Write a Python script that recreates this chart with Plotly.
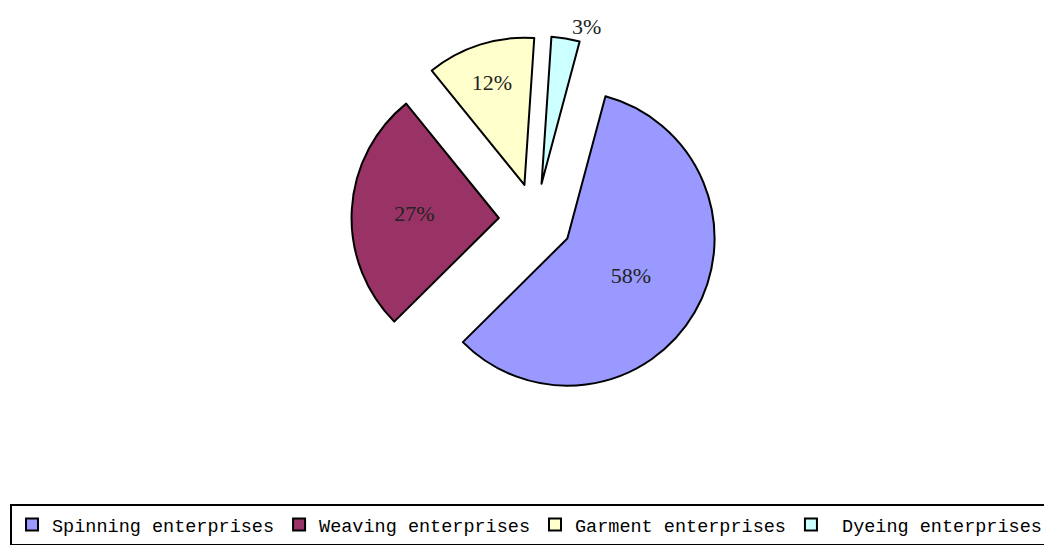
import plotly.graph_objects as go

# Data
categories = ["Spinning enterprises", "Weaving enterprises", "Garment enterprises", " Dyeing enterprises"]
shares = [58.4, 26.6, 11.9, 3.1]
colors = ["#9999FF", "#993366", "#FFFFCC", "#CCFFFF"]
text_positions = ["inside", "inside", "inside", "outside"]

fig = go.Figure(
    go.Pie(
        labels=categories,
        values=shares,
        sort=False,
        direction="clockwise",
        rotation=15,
        pull=[0.25, 0.25, 0.25, 0.25],
        domain=dict(x=[0.0259, 1.0], y=[0, 1]),
        marker=dict(colors=colors, line=dict(color="#000000", width=2)),
        texttemplate="%{percent:.0%}",
        textposition=text_positions,
        insidetextorientation="horizontal",
        textfont=dict(family="Liberation Serif", size=22, color="#222222"),
        outsidetextfont=dict(family="Liberation Serif", size=22, color="#222222"),
        hoverinfo="label+percent",
    )
)

fig.update_layout(
    width=1044,
    height=545,
    paper_bgcolor="white",
    plot_bgcolor="white",
    margin=dict(l=0, r=0, t=36, b=141, autoexpand=False),
    showlegend=True,
    legend=dict(
        orientation="h",
        xref="container",
        yref="container",
        x=0.0096,
        xanchor="left",
        y=1 - 504 / 545,
        yanchor="top",
        bgcolor="white",
        bordercolor="#000000",
        borderwidth=2,
        font=dict(family="Liberation Mono", size=18.5, color="#000000"),
        itemsizing="constant",
    ),
)

fig.write_html("out.html")
